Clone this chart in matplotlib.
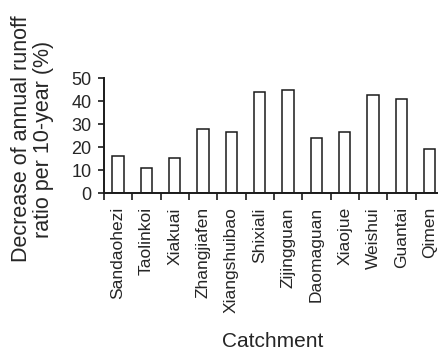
import numpy as np
import matplotlib
matplotlib.use('Agg')
import matplotlib.pyplot as plt

plt.rcParams['font.family'] = ['Liberation Sans', 'DejaVu Sans']

# Catchments and decrease of annual runoff ratio per 10 years (%)
catchments = ['Sandaohezi', 'Taolinkoi', 'Xiakuai', 'Zhangjiafen', 'Xiangshuibao',
              'Shixiali', 'Zijingguan', 'Daomaguan', 'Xiaojue', 'Weishui',
              'Guantai', 'Qimen']
decrease = [16.1, 10.9, 15.5, 28.1, 26.6, 43.9, 44.7, 23.9, 26.6, 42.6, 41.1, 19.2]

text_color = '#262626'
line_color = '#1a1a1a'

fig = plt.figure(figsize=(4.38, 3.5), dpi=100)
ax = fig.add_axes([0.2374, 0.4477, 0.776, 0.3286])

x = np.arange(len(catchments))
ax.bar(x, decrease, width=0.4, color='white', edgecolor=line_color, linewidth=1.1)

ax.set_xlim(-0.5, len(catchments) - 0.5)
ax.set_ylim(0, 50)
ax.set_yticks([0, 10, 20, 30, 40, 50])

# labels on bar centres, tick marks on category boundaries
ax.set_xticks(x)
ax.set_xticklabels(catchments, rotation=90, fontsize=12.5, color=text_color)
ax.tick_params(axis='x', which='major', length=0, pad=10)
ax.set_xticks(np.arange(-0.5, len(catchments)), minor=True)
ax.tick_params(axis='x', which='minor', length=5, width=1.2, color=line_color, direction='out')
ax.tick_params(axis='y', length=4, width=1.2, color=line_color, pad=5,
               labelsize=13, labelcolor=text_color)

for side in ['top', 'right']:
    ax.spines[side].set_visible(False)
for side in ['left', 'bottom']:
    ax.spines[side].set_linewidth(1.4)
    ax.spines[side].set_color(line_color)

fig.text(32.5 / 438, 0.603, 'Decrease of annual runoff\nratio per 10-year (%)',
         rotation=90, ha='center', va='center', multialignment='center',
         fontsize=15.5, color=text_color, linespacing=1.1)
fig.text(273 / 438, 3 / 350, 'Catchment', ha='center', va='baseline',
         fontsize=15, color=text_color)

fig.savefig('out.png', dpi=100)
